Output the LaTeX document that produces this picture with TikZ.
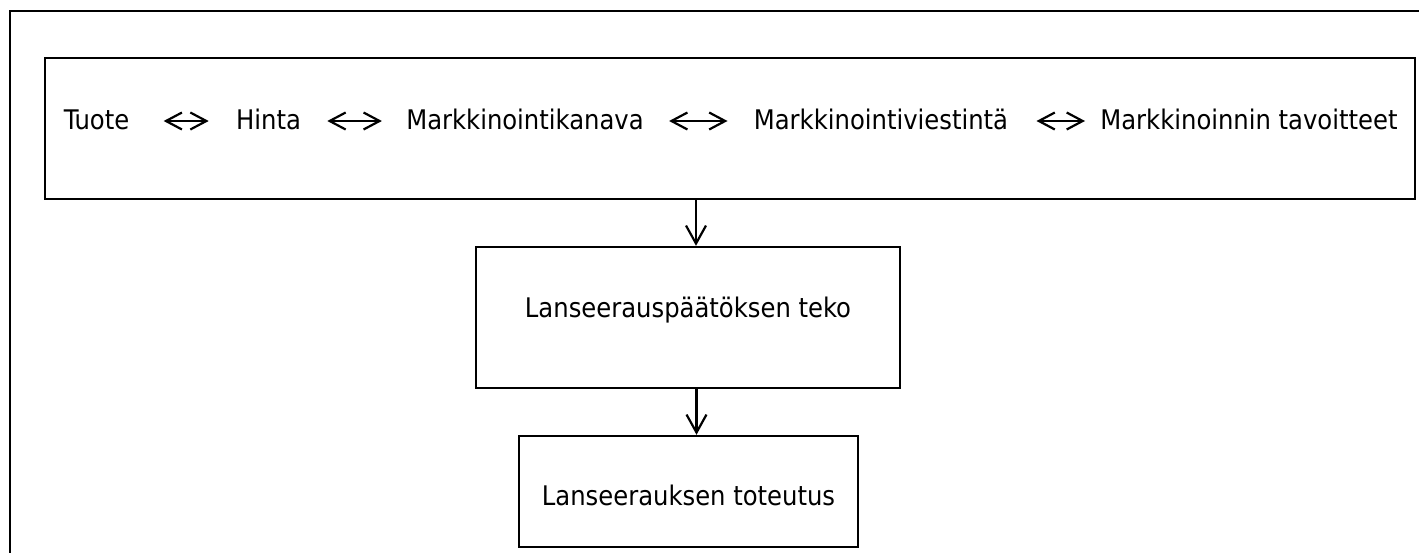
\documentclass[tikz,border=0pt]{standalone}
\usepackage{fontspec}
\setmainfont{DejaVu Sans Condensed}
\usetikzlibrary{arrows.meta}
\tikzset{
  box/.style={draw, line width=1.2pt, inner sep=0pt},
  word/.style={anchor=base, inner sep=0pt, text height=8pt, text depth=0pt},
  pair/.style={line width=1.1pt, {Straight Barb[length=8pt,width=8.5pt]}-{Straight Barb[length=8pt,width=8.5pt]}},
  flow/.style={line width=1.1pt, -{Straight Barb[length=9pt,width=10pt]}}
}

\begin{document}
\begin{tikzpicture}[x=0.5pt,y=-0.5pt,font=\fontsize{13.5pt}{16pt}\selectfont]
\useasboundingbox (0,0) rectangle (1419,552);
\clip (0,0) rectangle (1419,552);
\draw[line width=1.2pt] (10,11) rectangle (1440,580);
\node[box, minimum width=685pt, minimum height=70.5pt] (mix) at (730,128.5) {};
\foreach \name/\xpos/\txt in {tuote/96.5/Tuote, hinta/268.5/Hinta, kanava/525/Markkinointikanava, viestinta/881/Markkinointiviestintä, tavoite/1249/Markkinoinnin tavoitteet}
  \node[word] (\name) at (\xpos,129) {\txt};
\draw[pair, shorten <=17pt, shorten >=13.5pt] (tuote.east) -- (hinta.west);
\draw[pair, shorten <=13pt, shorten >=12pt] (hinta.east) -- (kanava.west);
\draw[pair, shorten <=12.5pt, shorten >=13pt] (kanava.east) -- (viestinta.west);
\draw[pair, shorten <=14pt, shorten >=7.5pt] (viestinta.east) -- (tavoite.west);
\node[box, minimum width=212pt, minimum height=70.5pt, text height=6pt, text depth=6pt] (dec) at (688,317.5) {Lanseerauspäätöksen teko};
\node[box, minimum width=169.5pt, minimum height=55.5pt, text height=13.5pt, text depth=0pt] (impl) at (688.5,491.5) {Lanseerauksen toteutus};
\draw[flow] ([xshift=4pt]dec.north |- mix.south) -- ([xshift=4pt]dec.north);
\draw[flow] ([xshift=4pt]impl.north |- dec.south) -- ([xshift=4pt]impl.north);
\end{tikzpicture}
\end{document}
